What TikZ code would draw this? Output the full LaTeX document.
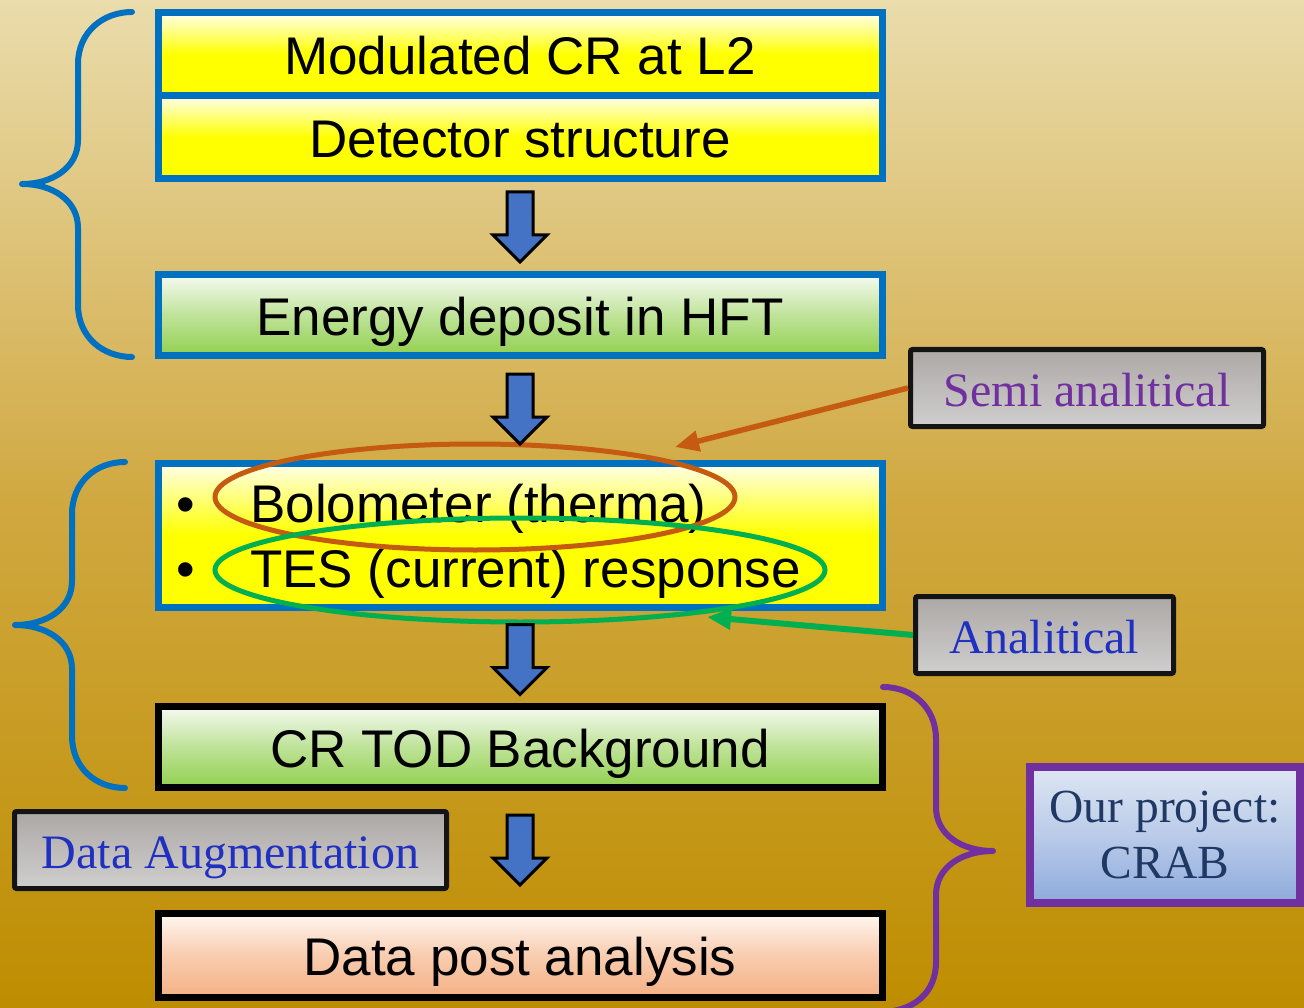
\documentclass[tikz,border=0pt]{standalone}
\usepackage{fontspec}
\setmainfont{Liberation Serif}
\newfontfamily\arialf{Liberation Sans}
\newfontfamily\timesf{Liberation Serif}
\usetikzlibrary{shapes.geometric,arrows.meta,calc}
\definecolor{bgtop}{RGB}{234,220,172}
\definecolor{bgmid}{RGB}{208,168,64}
\definecolor{bgbot}{RGB}{190,141,0}
\definecolor{bblue}{RGB}{0,112,192}
\definecolor{arrblue}{RGB}{68,114,196}
\definecolor{ylw}{RGB}{255,255,0}
\definecolor{ylwtop}{RGB}{255,255,235}
\definecolor{grn}{RGB}{146,208,80}
\definecolor{grntop}{RGB}{246,250,242}
\definecolor{org}{RGB}{244,176,132}
\definecolor{orgtop}{RGB}{255,248,242}
\definecolor{gtop}{RGB}{172,168,166}
\definecolor{gbot}{RGB}{208,206,206}
\definecolor{ltop}{RGB}{222,230,243}
\definecolor{lbot}{RGB}{142,170,220}
\definecolor{purp}{RGB}{112,48,160}
\definecolor{lblue}{RGB}{32,48,192}
\definecolor{navy}{RGB}{31,56,100}
\definecolor{orline}{RGB}{197,90,17}
\definecolor{grline}{RGB}{0,176,80}
\definecolor{frame}{RGB}{20,20,20}
\begin{document}
\begin{tikzpicture}[x=1pt,y=-1pt,
  mainbox/.style={draw, line width=7pt, minimum width=724pt, inner sep=0pt,
    font=\arialf\fontsize{53}{60}\selectfont, text height=41pt, text depth=0pt},
  yelbox/.style={mainbox, draw=bblue, top color=ylwtop, bottom color=ylw, middle color=ylw},
  grnbox/.style={mainbox, top color=grntop, bottom color=grn, middle color=grn!55!grntop},
  orgbox/.style={mainbox, draw=black, top color=orgtop, bottom color=org, middle color=org!60!orgtop},
  lblbox/.style={draw=frame, line width=5pt, rounded corners=2pt, inner sep=0pt,
    top color=gtop, bottom color=gbot, minimum height=77pt,
    font=\timesf\fontsize{48}{54}\selectfont, text height=36pt, text depth=0pt},
  bracestyle/.style={line width=6pt, line cap=round, line join=round},
  bullettext/.style={anchor=base west, inner sep=0pt, font=\arialf\fontsize{53}{60}\selectfont},
  downarr/.pic={\draw[fill=arrblue, line width=3pt, line join=miter]
    (-13,-35) -- (13,-35) -- (13,8) -- (27,8) -- (0,35) -- (-27,8) -- (-13,8) -- cycle;}
]
\useasboundingbox (0,0) rectangle (1304,1008);
\clip (0,0) rectangle (1304,1008);
\shade[top color=bgtop, bottom color=bgbot, middle color=bgmid] (0,0) rectangle (1304,1008);

% main boxes
\node[yelbox, minimum height=83pt] (b1) at (520,54.5) {Modulated CR at L2};
\node[yelbox, minimum height=83pt] (b2) at (520,137.5) {Detector structure};
\node[grnbox, draw=bblue, minimum height=80pt] (b3) at (520,315) {Energy deposit in HFT};
\node[yelbox, minimum height=144pt, text height=0pt] (b4) at (520,535) {};
\node[grnbox, draw=black, minimum height=81pt] (b5) at (520,746.5) {CR TOD Background};
\node[orgbox, minimum height=84pt] (b6) at (520,955) {Data post analysis};

% bullet lines
\node[anchor=base, inner sep=0pt, font=\arialf\fontsize{53}{60}\selectfont] (u1) at (186,522) {•};
\node[bullettext] (t1) at (250,522) {Bolometer (therma)};
\node[anchor=base, inner sep=0pt, font=\arialf\fontsize{53}{60}\selectfont] (u2) at (186,587) {•};
\node[bullettext] (t2) at (250,587) {TES (current) response};

% ellipses
\node[ellipse, draw=orline, line width=5pt, minimum width=520pt, minimum height=106pt, inner sep=0pt] (e1) at (475,497) {};
\node[ellipse, draw=grline, line width=5pt, minimum width=610pt, minimum height=104pt, inner sep=0pt] (e2) at (520,570) {};

% block arrows
\path ($(b2.south)!0.5!(b3.north)$) pic {downarr};
\path ($(b3.south)!0.5!(b4.north)$) pic {downarr};
\path ($(b4.south)!0.5!(b5.north)$) ++(0,3) pic {downarr};
\path ($(b5.south)!0.5!(b6.north)$) pic {downarr};

% label boxes
\node[lblbox, minimum width=353pt, text=purp] (semi) at (1087,388) {Semi analitical};
\node[lblbox, minimum width=258pt, text=lblue] (anal) at (1044.5,635) {Analitical};
\node[lblbox, minimum width=432pt, text=lblue] (aug) at (230.5,850) {Data Augmentation};
\node[draw=purp, line width=8pt, inner sep=0pt, minimum width=270pt, minimum height=136pt,
  top color=ltop, bottom color=lbot, middle color=lbot!45!ltop, text=navy, align=center,
  font=\timesf\fontsize{47.5}{56}\selectfont] (crab) at (1165,835) {Our project:\\CRAB};

% annotation arrows
\coordinate (p1) at (675,447);
\coordinate (p2) at (707,617);
\draw[orline, line width=5.5pt, -{Triangle[length=24pt,width=20pt]}] (semi.west) -- (p1);
\draw[grline, line width=6pt, -{Triangle[length=24pt,width=20pt]}] (anal.west) -- (p2);

% braces
\draw[bblue, bracestyle] (132,12) .. controls (103,12) and (78,32) .. (78,64) -- (78,140)
  .. controls (78,168) and (52,184) .. (22,184) .. controls (52,184) and (78,200) .. (78,228)
  -- (78,305) .. controls (78,337) and (103,357) .. (132,357);
\draw[bblue, bracestyle] (125,462) .. controls (96,462) and (72,482) .. (72,514) -- (72,581)
  .. controls (72,609) and (46,625) .. (15,625) .. controls (46,625) and (72,641) .. (72,669)
  -- (72,736) .. controls (72,768) and (96,788) .. (125,788);
\draw[purp, bracestyle] (883,687) .. controls (912,687) and (936,707) .. (936,739) -- (936,807)
  .. controls (936,835) and (962,851) .. (993,851) .. controls (962,851) and (936,867) .. (936,895)
  -- (936,962) .. controls (936,992) and (915,1010) .. (885,1012);
\end{tikzpicture}
\end{document}
